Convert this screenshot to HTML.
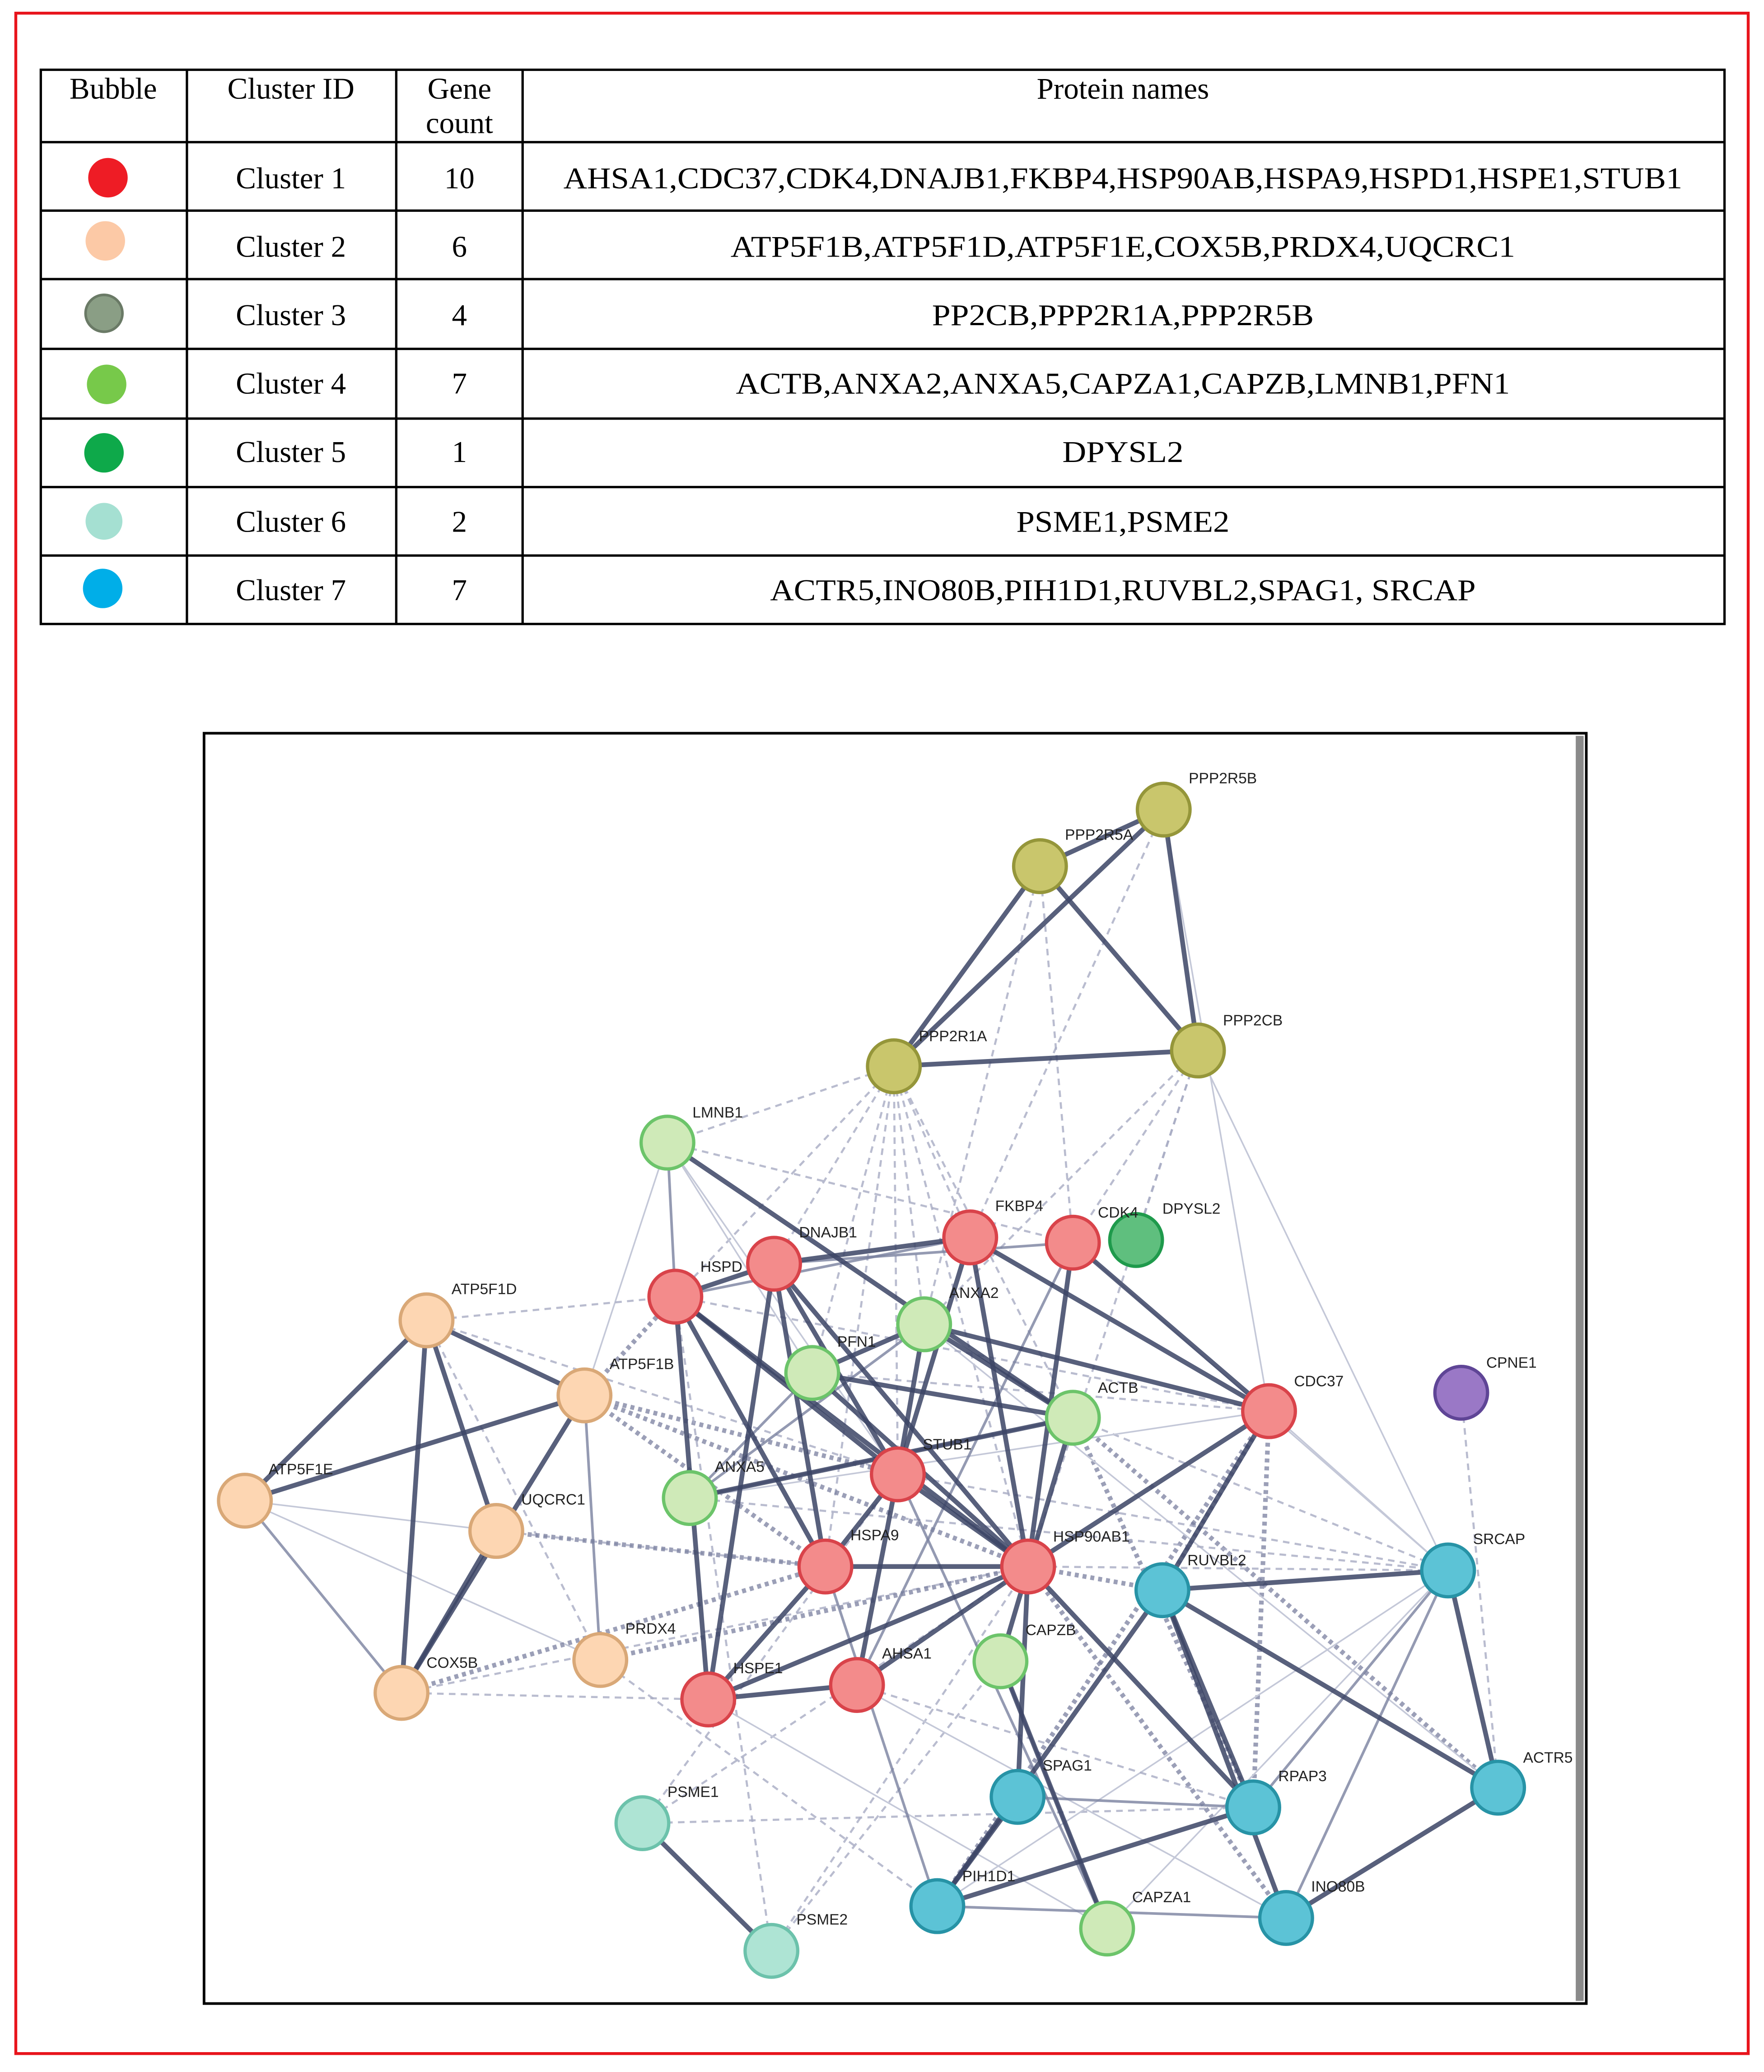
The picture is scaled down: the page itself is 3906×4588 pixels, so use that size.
<!DOCTYPE html>
<html><head><meta charset="utf-8"><style>
html,body{margin:0;padding:0;background:#fff}
svg{display:block}
.tt{font-family:"Liberation Serif",serif;font-size:23px;fill:#000}
.lb{font-family:"Liberation Sans",sans-serif;font-size:11.5px;fill:#222}
.s{stroke:#3c4566;stroke-width:3.6;opacity:.85}
.m{stroke:#7a82a0;stroke-width:2;opacity:.8}
.d{stroke:#7a80a0;stroke-width:3.5;stroke-dasharray:3 3;opacity:.75}
.q{stroke:#a8acc4;stroke-width:1.6;stroke-dasharray:5 4;opacity:.8}
.l{stroke:#c4c8d8;stroke-width:1.2}
.r{fill:#f38b8b;stroke:#d9434a;stroke-width:2.5}
.g{fill:#cfeab8;stroke:#6cc46a;stroke-width:2.5}
.o{fill:#c9c66c;stroke:#95963a;stroke-width:2.5}
.p{fill:#fdd6b2;stroke:#d9a877;stroke-width:2.5}
.t{fill:#5cc3d6;stroke:#2793a6;stroke-width:2.5}
.lt{fill:#aee4d4;stroke:#6cc2ab;stroke-width:2.5}
</style></head><body>
<svg width="3906" height="4588" viewBox="0 0 1340 1574" preserveAspectRatio="none" xmlns="http://www.w3.org/2000/svg">
<rect x="0" y="0" width="1340" height="1574" fill="#fff"/>
<rect x="12" y="10" width="1316" height="1550" fill="none" stroke="#e8141c" stroke-width="2.2"/>
<g stroke="#000" stroke-width="1.8" fill="none">
<rect x="31" y="53" width="1279" height="421"/>
<line x1="142" y1="53" x2="142" y2="474"/><line x1="301" y1="53" x2="301" y2="474"/><line x1="397" y1="53" x2="397" y2="474"/>
<line x1="31" y1="108" x2="1310" y2="108"/><line x1="31" y1="160" x2="1310" y2="160"/><line x1="31" y1="212" x2="1310" y2="212"/><line x1="31" y1="265" x2="1310" y2="265"/><line x1="31" y1="318" x2="1310" y2="318"/><line x1="31" y1="370" x2="1310" y2="370"/><line x1="31" y1="422" x2="1310" y2="422"/>
</g>
<g class="tt" text-anchor="middle">
<text x="86" y="75">Bubble</text><text x="221" y="75">Cluster ID</text><text x="349" y="75">Gene</text><text x="349" y="101">count</text><text x="853" y="75">Protein names</text>
<text x="221" y="143">Cluster 1</text><text x="349" y="143">10</text><text x="853" y="143" textLength="850" lengthAdjust="spacingAndGlyphs">AHSA1,CDC37,CDK4,DNAJB1,FKBP4,HSP90AB,HSPA9,HSPD1,HSPE1,STUB1</text>
<text x="221" y="195">Cluster 2</text><text x="349" y="195">6</text><text x="853" y="195" textLength="596" lengthAdjust="spacingAndGlyphs">ATP5F1B,ATP5F1D,ATP5F1E,COX5B,PRDX4,UQCRC1</text>
<text x="221" y="247">Cluster 3</text><text x="349" y="247">4</text><text x="853" y="247" textLength="290" lengthAdjust="spacingAndGlyphs">PP2CB,PPP2R1A,PPP2R5B</text>
<text x="221" y="299">Cluster 4</text><text x="349" y="299">7</text><text x="853" y="299" textLength="588" lengthAdjust="spacingAndGlyphs">ACTB,ANXA2,ANXA5,CAPZA1,CAPZB,LMNB1,PFN1</text>
<text x="221" y="351">Cluster 5</text><text x="349" y="351">1</text><text x="853" y="351" textLength="92" lengthAdjust="spacingAndGlyphs">DPYSL2</text>
<text x="221" y="404">Cluster 6</text><text x="349" y="404">2</text><text x="853" y="404" textLength="162" lengthAdjust="spacingAndGlyphs">PSME1,PSME2</text>
<text x="221" y="456">Cluster 7</text><text x="349" y="456">7</text><text x="853" y="456" textLength="536" lengthAdjust="spacingAndGlyphs">ACTR5,INO80B,PIH1D1,RUVBL2,SPAG1, SRCAP</text>
</g>
<circle cx="82" cy="135" r="15" fill="#ee1c25"/>
<circle cx="80" cy="183" r="15" fill="#fcc9a6"/>
<circle cx="79" cy="238" r="14" fill="#8a9e85" stroke="#6a7a66" stroke-width="2"/>
<circle cx="81" cy="292" r="15" fill="#77c94a"/>
<circle cx="79" cy="344" r="15" fill="#0ea94a"/>
<circle cx="79" cy="396" r="14" fill="#a5e0d2"/>
<circle cx="78" cy="447" r="15" fill="#00aee8"/>
<rect x="155" y="557" width="1050" height="965" fill="#fff" stroke="#000" stroke-width="2"/>
<rect x="1197" y="559" width="6" height="961" fill="#8a8a8a"/>
<g>
<line class="q" x1="679" y1="810" x2="507" y2="868"/><line class="q" x1="679" y1="810" x2="513" y2="985"/><line class="q" x1="679" y1="810" x2="588" y2="960"/><line class="q" x1="679" y1="810" x2="702" y2="1006"/><line class="q" x1="679" y1="810" x2="737" y2="940"/><line class="q" x1="679" y1="810" x2="815" y2="1077"/><line class="q" x1="679" y1="810" x2="781" y2="1190"/><line class="q" x1="679" y1="810" x2="617" y2="1043"/><line class="q" x1="910" y1="798" x2="815" y2="944"/><line class="q" x1="910" y1="798" x2="863" y2="942"/><line class="q" x1="910" y1="798" x2="781" y2="1190"/><line class="q" x1="910" y1="798" x2="702" y2="1006"/><line class="q" x1="790" y1="658" x2="815" y2="944"/><line class="q" x1="884" y1="615" x2="737" y2="940"/><line class="q" x1="790" y1="658" x2="702" y2="1006"/>
<line class="l" x1="910" y1="798" x2="1100" y2="1193"/><line class="l" x1="884" y1="615" x2="964" y2="1072"/><line class="q" x1="679" y1="810" x2="682" y2="1120"/><line class="q" x1="679" y1="810" x2="627" y2="1190"/>
<line class="l" x1="507" y1="868" x2="682" y2="1120"/><line class="l" x1="507" y1="868" x2="444" y2="1060"/><line class="l" x1="507" y1="868" x2="617" y2="1043"/><line class="q" x1="507" y1="868" x2="815" y2="944"/>
<line class="q" x1="324" y1="1003" x2="513" y2="985"/><line class="q" x1="324" y1="1003" x2="682" y2="1120"/><line class="q" x1="324" y1="1003" x2="456" y2="1261"/><line class="l" x1="186" y1="1140" x2="456" y2="1261"/><line class="l" x1="186" y1="1140" x2="377" y2="1163"/><line class="q" x1="305" y1="1286" x2="781" y2="1190"/><line class="q" x1="305" y1="1286" x2="538" y2="1291"/><line class="q" x1="377" y1="1163" x2="627" y2="1190"/><line class="d" x1="444" y1="1060" x2="682" y2="1120"/><line class="d" x1="444" y1="1060" x2="781" y2="1190"/><line class="d" x1="444" y1="1060" x2="627" y2="1190"/><line class="d" x1="456" y1="1261" x2="781" y2="1190"/><line class="d" x1="377" y1="1163" x2="627" y2="1190"/><line class="d" x1="305" y1="1286" x2="627" y2="1190"/><line class="d" x1="444" y1="1060" x2="513" y2="985"/>
<line class="q" x1="488" y1="1385" x2="682" y2="1120"/><line class="q" x1="488" y1="1385" x2="781" y2="1190"/><line class="q" x1="488" y1="1385" x2="952" y2="1373"/><line class="q" x1="586" y1="1482" x2="781" y2="1190"/><line class="q" x1="586" y1="1482" x2="513" y2="985"/><line class="q" x1="586" y1="1482" x2="760" y2="1262"/>
<line class="d" x1="964" y1="1072" x2="952" y2="1373"/><line class="d" x1="964" y1="1072" x2="712" y2="1448"/><line class="d" x1="964" y1="1072" x2="883" y2="1208"/><line class="d" x1="815" y1="1077" x2="952" y2="1373"/><line class="d" x1="815" y1="1077" x2="1138" y2="1358"/><line class="d" x1="781" y1="1190" x2="883" y2="1208"/><line class="d" x1="781" y1="1190" x2="977" y2="1457"/><line class="q" x1="1100" y1="1193" x2="815" y2="1077"/><line class="q" x1="1100" y1="1193" x2="781" y2="1190"/><line class="q" x1="1110" y1="1058" x2="1138" y2="1358"/>
<line class="l" x1="815" y1="944" x2="1100" y2="1193"/><line class="l" x1="702" y1="1006" x2="1138" y2="1358"/><line class="l" x1="964" y1="1072" x2="1100" y2="1193"/><line class="l" x1="538" y1="1291" x2="841" y2="1465"/><line class="l" x1="651" y1="1280" x2="977" y2="1457"/><line class="l" x1="712" y1="1448" x2="1100" y2="1193"/><line class="l" x1="841" y1="1465" x2="1100" y2="1193"/><line class="l" x1="524" y1="1138" x2="964" y2="1072"/>
<line class="q" x1="617" y1="1043" x2="964" y2="1072"/><line class="q" x1="513" y1="985" x2="964" y2="1072"/><line class="q" x1="524" y1="1138" x2="1100" y2="1193"/><line class="q" x1="682" y1="1120" x2="1100" y2="1193"/><line class="q" x1="456" y1="1261" x2="712" y2="1448"/><line class="q" x1="651" y1="1280" x2="952" y2="1373"/>
</g>
<g>
<line class="m" x1="186" y1="1140" x2="305" y2="1286"/><line class="m" x1="444" y1="1060" x2="456" y2="1261"/><line class="m" x1="507" y1="868" x2="513" y2="985"/><line class="m" x1="524" y1="1138" x2="815" y2="1077"/><line class="m" x1="617" y1="1043" x2="524" y2="1138"/><line class="m" x1="702" y1="1006" x2="524" y2="1138"/><line class="m" x1="513" y1="985" x2="737" y2="940"/><line class="m" x1="588" y1="960" x2="815" y2="944"/><line class="m" x1="773" y1="1365" x2="952" y2="1373"/><line class="m" x1="712" y1="1448" x2="977" y2="1457"/><line class="m" x1="1100" y1="1193" x2="977" y2="1457"/><line class="m" x1="760" y1="1262" x2="841" y2="1465"/><line class="m" x1="682" y1="1120" x2="841" y2="1465"/><line class="m" x1="627" y1="1190" x2="712" y2="1448"/><line class="m" x1="1100" y1="1193" x2="952" y2="1373"/><line class="m" x1="815" y1="944" x2="651" y2="1280"/>
</g>
<g>
<line class="s" x1="790" y1="658" x2="884" y2="615"/><line class="s" x1="790" y1="658" x2="679" y2="810"/><line class="s" x1="884" y1="615" x2="679" y2="810"/><line class="s" x1="884" y1="615" x2="910" y2="798"/><line class="s" x1="790" y1="658" x2="910" y2="798"/><line class="s" x1="679" y1="810" x2="910" y2="798"/>
<line class="s" x1="324" y1="1003" x2="186" y2="1140"/><line class="s" x1="324" y1="1003" x2="377" y2="1163"/><line class="s" x1="324" y1="1003" x2="305" y2="1286"/><line class="s" x1="324" y1="1003" x2="444" y2="1060"/><line class="s" x1="444" y1="1060" x2="186" y2="1140"/><line class="s" x1="444" y1="1060" x2="305" y2="1286"/><line class="s" x1="377" y1="1163" x2="305" y2="1286"/>
<line class="s" x1="488" y1="1385" x2="586" y2="1482"/>
<line class="s" x1="588" y1="960" x2="737" y2="940"/><line class="s" x1="588" y1="960" x2="513" y2="985"/><line class="s" x1="588" y1="960" x2="682" y2="1120"/><line class="s" x1="588" y1="960" x2="781" y2="1190"/><line class="s" x1="588" y1="960" x2="627" y2="1190"/><line class="s" x1="588" y1="960" x2="538" y2="1291"/><line class="s" x1="513" y1="985" x2="538" y2="1291"/><line class="s" x1="513" y1="985" x2="627" y2="1190"/><line class="s" x1="513" y1="985" x2="682" y2="1120"/><line class="s" x1="513" y1="985" x2="781" y2="1190"/><line class="s" x1="737" y1="940" x2="781" y2="1190"/><line class="s" x1="737" y1="940" x2="682" y2="1120"/><line class="s" x1="737" y1="940" x2="964" y2="1072"/><line class="s" x1="815" y1="944" x2="964" y2="1072"/><line class="s" x1="815" y1="944" x2="781" y2="1190"/><line class="s" x1="964" y1="1072" x2="781" y2="1190"/><line class="s" x1="682" y1="1120" x2="781" y2="1190"/><line class="s" x1="682" y1="1120" x2="627" y2="1190"/><line class="s" x1="627" y1="1190" x2="538" y2="1291"/><line class="s" x1="627" y1="1190" x2="781" y2="1190"/><line class="s" x1="651" y1="1280" x2="781" y2="1190"/><line class="s" x1="651" y1="1280" x2="538" y2="1291"/><line class="s" x1="651" y1="1280" x2="682" y2="1120"/><line class="s" x1="538" y1="1291" x2="781" y2="1190"/>
<line class="s" x1="702" y1="1006" x2="617" y2="1043"/><line class="s" x1="617" y1="1043" x2="815" y2="1077"/><line class="s" x1="702" y1="1006" x2="815" y2="1077"/><line class="s" x1="702" y1="1006" x2="964" y2="1072"/><line class="s" x1="507" y1="868" x2="815" y2="1077"/><line class="s" x1="524" y1="1138" x2="815" y2="1077"/><line class="s" x1="815" y1="1077" x2="760" y2="1262"/><line class="s" x1="617" y1="1043" x2="781" y2="1190"/><line class="s" x1="702" y1="1006" x2="682" y2="1120"/>
<line class="s" x1="883" y1="1208" x2="1100" y2="1193"/><line class="s" x1="883" y1="1208" x2="1138" y2="1358"/><line class="s" x1="883" y1="1208" x2="977" y2="1457"/><line class="s" x1="883" y1="1208" x2="952" y2="1373"/><line class="s" x1="883" y1="1208" x2="712" y2="1448"/><line class="s" x1="1100" y1="1193" x2="1138" y2="1358"/><line class="s" x1="1138" y1="1358" x2="977" y2="1457"/><line class="s" x1="773" y1="1365" x2="712" y2="1448"/><line class="s" x1="781" y1="1190" x2="773" y2="1365"/><line class="s" x1="781" y1="1190" x2="952" y2="1373"/><line class="s" x1="712" y1="1448" x2="952" y2="1373"/><line class="s" x1="760" y1="1262" x2="841" y2="1465"/><line class="s" x1="964" y1="1072" x2="883" y2="1208"/>
</g>
<g>
<circle class="o" cx="884" cy="615" r="20"/><circle class="o" cx="790" cy="658" r="20"/><circle class="o" cx="910" cy="798" r="20"/><circle class="o" cx="679" cy="810" r="20"/>
<circle class="g" cx="507" cy="868" r="20"/><circle class="r" cx="737" cy="940" r="20"/><circle class="r" cx="815" cy="944" r="20"/>
<circle cx="863" cy="942" r="20" fill="#5fbf7e" stroke="#1f9a4c" stroke-width="2.5"/>
<circle class="r" cx="588" cy="960" r="20"/><circle class="r" cx="513" cy="985" r="20"/><circle class="g" cx="702" cy="1006" r="20"/>
<circle class="p" cx="324" cy="1003" r="20"/><circle class="p" cx="444" cy="1060" r="20"/><circle class="g" cx="617" cy="1043" r="20"/><circle class="g" cx="815" cy="1077" r="20"/>
<circle class="r" cx="964" cy="1072" r="20"/>
<circle cx="1110" cy="1058" r="20" fill="#9a78c6" stroke="#5f4596" stroke-width="2.5"/>
<circle class="p" cx="186" cy="1140" r="20"/><circle class="p" cx="377" cy="1163" r="20"/><circle class="g" cx="524" cy="1138" r="20"/>
<circle class="r" cx="682" cy="1120" r="20"/><circle class="r" cx="627" cy="1190" r="20"/><circle class="r" cx="781" cy="1190" r="20"/>
<circle class="t" cx="883" cy="1208" r="20"/><circle class="t" cx="1100" cy="1193" r="20"/><circle class="g" cx="760" cy="1262" r="20"/>
<circle class="p" cx="456" cy="1261" r="20"/><circle class="p" cx="305" cy="1286" r="20"/><circle class="r" cx="538" cy="1291" r="20"/><circle class="r" cx="651" cy="1280" r="20"/>
<circle class="lt" cx="488" cy="1385" r="20"/><circle class="t" cx="773" cy="1365" r="20"/><circle class="t" cx="952" cy="1373" r="20"/><circle class="t" cx="1138" cy="1358" r="20"/>
<circle class="t" cx="712" cy="1448" r="20"/><circle class="g" cx="841" cy="1465" r="20"/><circle class="t" cx="977" cy="1457" r="20"/><circle class="lt" cx="586" cy="1482" r="20"/>
</g>
<g class="lb">
<text x="903" y="595">PPP2R5B</text><text x="809" y="638">PPP2R5A</text><text x="929" y="779">PPP2CB</text><text x="698" y="791">PPP2R1A</text>
<text x="526" y="849">LMNB1</text><text x="756" y="920">FKBP4</text><text x="834" y="925">CDK4</text><text x="883" y="922">DPYSL2</text>
<text x="607" y="940">DNAJB1</text><text x="532" y="966">HSPD</text><text x="721" y="986">ANXA2</text><text x="343" y="983">ATP5F1D</text>
<text x="463" y="1040">ATP5F1B</text><text x="636" y="1023">PFN1</text><text x="834" y="1058">ACTB</text><text x="983" y="1053">CDC37</text>
<text x="1129" y="1039">CPNE1</text><text x="204" y="1120">ATP5F1E</text><text x="396" y="1143">UQCRC1</text><text x="543" y="1118">ANXA5</text>
<text x="701" y="1101">STUB1</text><text x="646" y="1170">HSPA9</text><text x="800" y="1171">HSP90AB1</text><text x="902" y="1189">RUVBL2</text>
<text x="1119" y="1173">SRCAP</text><text x="779" y="1242">CAPZB</text><text x="475" y="1241">PRDX4</text><text x="324" y="1267">COX5B</text>
<text x="557" y="1271">HSPE1</text><text x="670" y="1260">AHSA1</text><text x="507" y="1365">PSME1</text><text x="792" y="1345">SPAG1</text>
<text x="971" y="1353">RPAP3</text><text x="1157" y="1339">ACTR5</text><text x="731" y="1429">PIH1D1</text><text x="860" y="1445">CAPZA1</text>
<text x="996" y="1437">INO80B</text><text x="605" y="1462">PSME2</text>
</g>
</svg>
</body></html>
